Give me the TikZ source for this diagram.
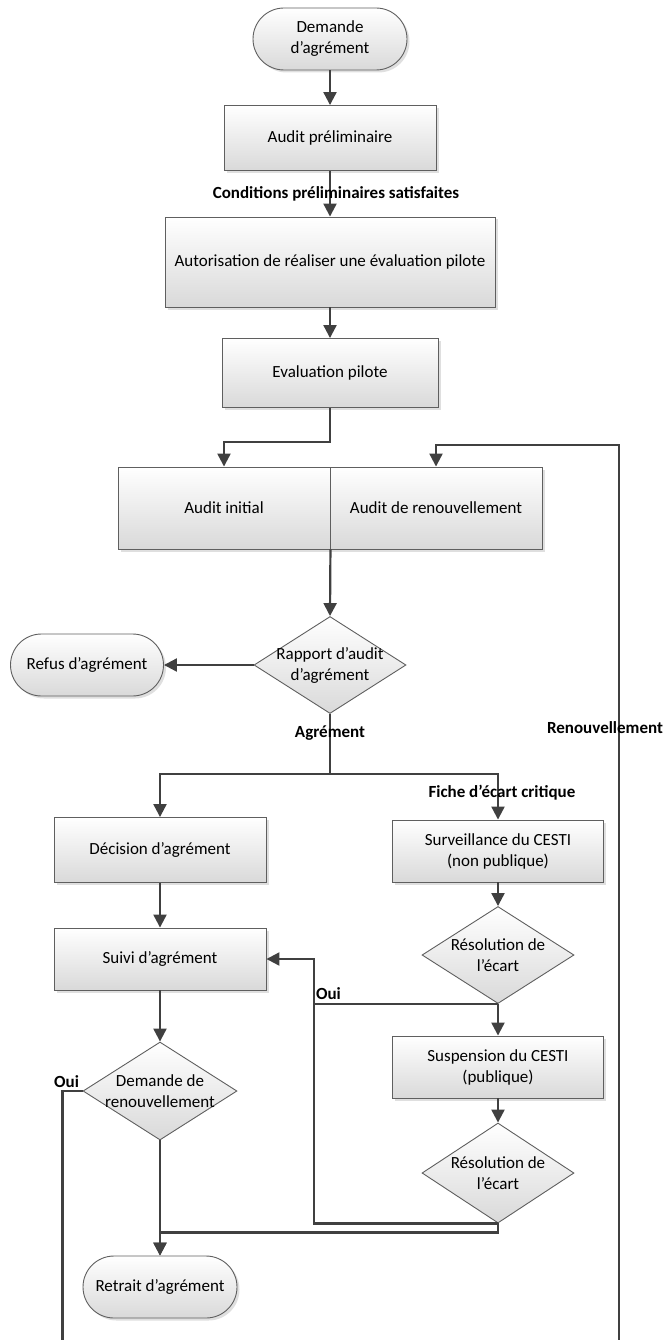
\documentclass[tikz,border=0pt]{standalone}
\usepackage{fontspec}
\setmainfont{Carlito}
\usetikzlibrary{arrows.meta,shapes.geometric,shadows}

\definecolor{boxgray}{HTML}{D9D9D9}
\definecolor{boxline}{HTML}{5F5F5F}
\definecolor{flowline}{HTML}{404040}
\newcommand{\diagfont}{\fontsize{17}{21}\selectfont}

\tikzset{
    box/.style={draw=boxline, line width=0.9pt, top color=white, bottom color=boxgray,
        drop shadow={shadow xshift=2.5pt, shadow yshift=-2.5pt, fill=black!25},
        align=center, inner sep=2pt},
    stadium/.style={box, rounded corners=31pt},
    decision/.style={diamond, draw=boxline, line width=0.9pt, top color=white,
        bottom color=boxgray, inner sep=0pt},
    flow/.style={draw=flowline, line width=2.2pt, -{Triangle[length=13pt,width=13pt]}},
    plain/.style={draw=flowline, line width=2.2pt},
    lbl/.style={font=\diagfont\bfseries, inner sep=1pt},
}

\begin{document}
\begin{tikzpicture}[x=1pt, y=-1pt, font=\diagfont]

    \useasboundingbox (0,0) rectangle (666,1340);

    % Demande d'agrement
    \node[stadium, minimum width=154pt, minimum height=62pt] (demande) at (330, 39) {Demande\\d’agrément};

    % Audit preliminaire
    \node[box, minimum width=212pt, minimum height=65pt] (audprel) at (330, 138) {Audit préliminaire};

    % Autorisation
    \node[box, minimum width=330pt, minimum height=90pt] (autor) at (330, 262) {Autorisation de réaliser une évaluation pilote};

    % Evaluation pilote
    \node[box, minimum width=216pt, minimum height=69pt] (evalpil) at (330, 373) {Evaluation pilote};

    % Audits
    \node[box, minimum width=212pt, minimum height=82pt] (audinit) at (224, 508) {Audit initial};
    \node[box, minimum width=212pt, minimum height=82pt] (audren) at (436, 508) {Audit de renouvellement};

    % Rapport d'audit
    \node[decision, minimum width=152pt, minimum height=97pt,
        label={[align=center]center:Rapport d’audit\\d’agrément}] (rapport) at (330, 665) {};

    % Refus
    \node[stadium, minimum width=153pt, minimum height=62pt] (refus) at (87, 665) {Refus d’agrément};

    % Branche gauche
    \node[box, minimum width=212pt, minimum height=65pt] (decis) at (160, 850) {Décision d’agrément};
    \node[box, minimum width=212pt, minimum height=62pt] (suivi) at (160, 959) {Suivi d’agrément};
    \node[decision, minimum width=154pt, minimum height=98pt,
        label={[align=center]center:Demande de\\renouvellement}] (demren) at (160, 1091) {};
    \node[stadium, minimum width=154pt, minimum height=62pt] (retrait) at (160, 1287) {Retrait d’agrément};

    % Branche droite
    \node[box, minimum width=211pt, minimum height=62pt] (surv) at (498, 851) {Surveillance du CESTI\\(non publique)};
    \node[decision, minimum width=152pt, minimum height=97pt,
        label={[align=center]center:Résolution de\\l’écart}] (resol1) at (498, 955) {};
    \node[box, minimum width=211pt, minimum height=62pt] (susp) at (498, 1067) {Suspension du CESTI\\(publique)};
    \node[decision, minimum width=152pt, minimum height=100pt,
        label={[align=center]center:Résolution de\\l’écart}] (resol2) at (498, 1173) {};

    \coordinate (renbot) at (619, 1340);

    % Connections
    \draw[flow] (demande) -- (audprel);
    \draw[flow] (audprel) -- (autor) node[lbl, midway, xshift=6pt] {Conditions préliminaires satisfaites};
    \draw[flow] (autor) -- (evalpil);
    \draw[flow] (evalpil.south) -- ++(0,34) -| (audinit.north);
    \draw[flow] (renbot) -- ++(0,-895) node[lbl, pos=0.684, xshift=-14pt] {Renouvellement} -| (audren.north);
    \draw[flow] (audinit.south east) -- (rapport.north);
    \draw[flow] (rapport.west) -- (refus.east);
    \draw[plain] (rapport.south) -- ++(0,60) coordinate (split) node[lbl, pos=0.32] {Agrément};
    \draw[flow] (split) -| (decis.north);
    \draw[flow] (split) -| (surv.north) node[lbl, pos=0.71, xshift=4pt] {Fiche d’écart critique};
    \draw[flow] (decis) -- (suivi);
    \draw[flow] (suivi) -- (demren);
    \draw[flow] (demren.south) -- (retrait.north);
    \draw[plain] (demren.west) -- ++(-20,0) node[lbl, anchor=south, xshift=4pt, yshift=1pt] {Oui} -- ++(0,249);
    \draw[flow] (surv) -- (resol1);
    \draw[flow] (resol1.south) -- (susp.north);
    \draw[flow] (resol1.south) -- ++(-184,0) node[lbl, anchor=south west, yshift=2pt] {Oui} |- (suivi.east);
    \draw[flow] (susp) -- (resol2);
    \draw[plain] (resol2.south) -- ++(-184,0) -- ++(0,-218);
    \draw[flow] (resol2.south) -- ++(0,9) -| (retrait.north);

\end{tikzpicture}
\end{document}
